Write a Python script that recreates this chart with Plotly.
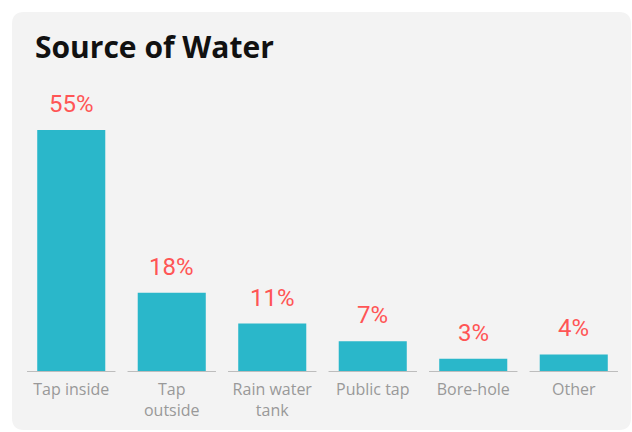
import plotly.graph_objects as go

categories = ["Tap inside", "Tap<br>outside", "Rain water<br>tank", "Public tap", "Bore-hole", "Other"]
values = [55, 18, 11, 7, 3, 4]
value_labels = ["55%", "18%", "11%", "7%", "3%", "4%"]

W, H = 632, 432
ML, MR, MT, MB = 21, 8, 108, 60
PW, PH = W - ML - MR, H - MT - MB

BAR = "#2ab7ca"
RED = "#ff5555"
GREY = "#999999"

fig = go.Figure(go.Bar(x=list(range(len(categories))), y=values, marker_color=BAR,
                       marker_line_width=0, hoverinfo="skip"))

# value labels above bars
for i, (v, t) in enumerate(zip(values, value_labels)):
    fig.add_annotation(x=i, y=v, text=t, showarrow=False, yanchor="bottom", yshift=10,
                       font=dict(family="Roboto", size=24, color=RED))

# per-category baseline segments
for i in range(len(categories)):
    fig.add_shape(type="line", xref="x", yref="y", x0=i - 0.44, x1=i + 0.44, y0=0, y1=0,
                  line=dict(color="#bdbdbd", width=2), layer="above")

# rounded card background (paper coords)
def px2x(px):
    return (px - ML) / PW

def py2y(py):
    return (H - MB - py) / PH

x0, x1, y0, y1, r = 12, 631, 12, 430, 12
path = (f"M {px2x(x0 + r)},{py2y(y0)} L {px2x(x1 - r)},{py2y(y0)} "
        f"Q {px2x(x1)},{py2y(y0)} {px2x(x1)},{py2y(y0 + r)} "
        f"L {px2x(x1)},{py2y(y1 - r)} Q {px2x(x1)},{py2y(y1)} {px2x(x1 - r)},{py2y(y1)} "
        f"L {px2x(x0 + r)},{py2y(y1)} Q {px2x(x0)},{py2y(y1)} {px2x(x0)},{py2y(y1 - r)} "
        f"L {px2x(x0)},{py2y(y0 + r)} Q {px2x(x0)},{py2y(y0)} {px2x(x0 + r)},{py2y(y0)} Z")
fig.add_shape(type="path", xref="paper", yref="paper", path=path,
              fillcolor="#f3f3f3", line=dict(width=0), layer="below")

fig.update_layout(
    width=W, height=H,
    margin=dict(l=ML, r=MR, t=MT, b=MB),
    paper_bgcolor="white", plot_bgcolor="rgba(0,0,0,0)",
    bargap=0.323, showlegend=False,
    title=dict(text="<b>Source of Water</b>", xref="container", yref="container",
               x=35 / W, xanchor="left", y=1 - 47 / H, yanchor="middle",
               font=dict(family="Open Sans", size=30, color="#111111")),
    xaxis=dict(tickmode="array", tickvals=list(range(len(categories))), ticktext=categories,
               range=[-0.5, len(categories) - 0.5], showgrid=False, zeroline=False,
               showline=False, ticks="outside", ticklen=3, tickcolor="rgba(0,0,0,0)",
               tickfont=dict(family="Open Sans", size=16, color=GREY)),
    yaxis=dict(range=[0, 60], visible=False, fixedrange=True),
)

fig.write_html("out.html", config={"displayModeBar": False},
               post_script="document.body.style.margin='0';document.body.style.padding='0';")
